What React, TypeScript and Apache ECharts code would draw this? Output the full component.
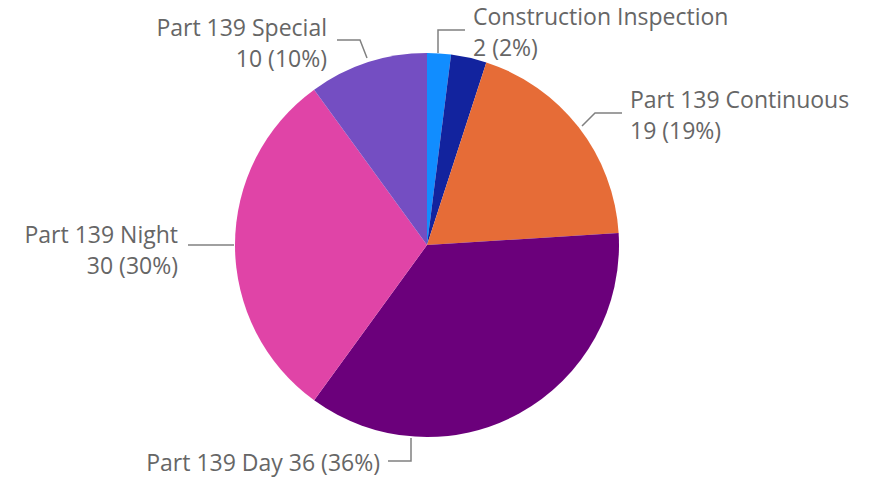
import React, { useEffect, useRef } from "react";
import * as echarts from "echarts";

const categories = [
  "Construction Inspection",
  "Other",
  "Part 139 Continuous",
  "Part 139 Day",
  "Part 139 Night",
  "Part 139 Special",
];
const values = [2, 3, 19, 36, 30, 10];
const colors = ["#118DFF", "#12239E", "#E66C37", "#6B007B", "#E044A7", "#744EC2"];
const showLabel = [true, false, true, true, true, true];
const singleLine = [false, false, false, true, false, false];

// label placement (x, y, align) and leader line points, in pixels
const labelPlacement: any[] = [
  { x: 473, y: 31, align: "left", line: [[438, 53], [438, 30], [465, 30]] },
  null,
  { x: 630, y: 114, align: "left", line: [[582, 126], [595, 113], [622, 113]] },
  { x: 380, y: 462, align: "right", line: [[411, 438], [411, 461], [388, 461]] },
  { x: 178, y: 249, align: "right", line: [[234, 245], [210, 245], [188, 245]] },
  { x: 327, y: 42, align: "right", line: [[367, 58], [360, 40], [337, 40]] },
];

export default function App() {
  const ref = useRef<HTMLDivElement>(null);
  useEffect(() => {
    if (!ref.current) return;
    const chart = echarts.init(ref.current, null, { renderer: "svg" });
    const data = categories.map((name, i) => ({
      name,
      value: values[i],
      itemStyle: { color: colors[i] },
      label: {
        show: showLabel[i],
        formatter: singleLine[i] ? "{b} {c} ({d}%)" : "{b}\n{c} ({d}%)",
        align: labelPlacement[i] ? labelPlacement[i].align : "left",
      },
      labelLine: { show: showLabel[i] },
    }));
    chart.setOption({
      animation: false,
      backgroundColor: "#ffffff",
      series: [
        {
          type: "pie",
          center: [427, 245],
          radius: 192,
          startAngle: 90,
          clockwise: true,
          percentPrecision: 0,
          avoidLabelOverlap: false,
          itemStyle: { borderWidth: 0 },
          label: {
            show: true,
            position: "outside",
            color: "#666666",
            fontSize: 23,
            lineHeight: 31,
            fontFamily: "'Segoe UI', 'Open Sans', sans-serif",
          },
          labelLine: {
            show: true,
            lineStyle: { color: "#808080", width: 1.5 },
          },
          labelLayout: (params: any) => {
            const p = labelPlacement[params.dataIndex];
            if (!p) return {};
            return {
              x: p.x,
              y: p.y,
              align: p.align,
              verticalAlign: "middle",
              labelLinePoints: p.line,
            };
          },
          data,
        },
      ],
    });
    return () => chart.dispose();
  }, []);
  return (
    <div
      ref={ref}
      style={{ position: "fixed", left: 0, top: 0, width: 875, height: 479 }}
    />
  );
}
